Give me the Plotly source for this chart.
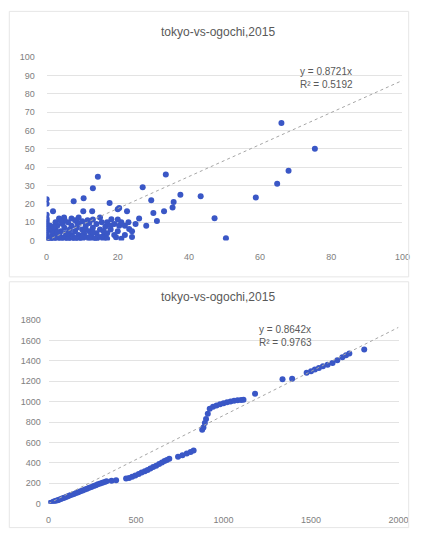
import plotly.graph_objects as go

W, H = 425, 539

# ---- data: top chart (daily) ----
daily_tokyo = [66, 75.4, 68, 64.8, 58.8, 43.3, 47.2, 50.4,
               33.5, 27, 37.6, 29.4, 35.7, 35.4, 33, 31,
               14.4, 13, 10.4, 7.6, 0, 0, 1.8, 10.3, 12.8, 17.7, 20.4, 22.6, 20, 15, 18.2, 20.4, 23.2, 19.5, 14, 4.9, 8.6,
               0, 0, 0, 0, 0, 0, 0, 0, 0, 0, 0, 0, 0, 0,
               0.5, 1, 2, 3, 4, 5, 6, 7, 8, 9, 10, 12, 14, 16,
               1, 1.5, 2, 2, 2.5, 3, 3, 3.5, 4, 4, 4.5, 5, 5, 5.5, 6, 6, 6.5, 7, 7, 7.5, 8, 8, 8.5, 9, 9, 9.5,
               10, 10, 10.5, 11, 11, 11.5, 12, 12, 12.5, 13, 13, 13.5, 14, 14, 15, 15.5, 16, 16.5, 17, 17, 18, 19, 19,
               20, 21, 22, 22, 24, 25, 21, 17, 1.5, 2.5, 3.5, 5, 7, 9, 4, 1, 1, 2, 3, 6, 8, 10, 11, 12, 13, 15, 16, 18,
               20, 23, 24, 26, 28, 30]
daily_ogochi = [64, 50, 38, 31, 23.5, 24.2, 12.1, 1.2,
                36, 29, 25, 22, 21, 18, 16, 10.7,
                34.8, 28.5, 23, 21.4, 22.5, 20, 16, 16, 16, 20.5, 17.8, 16, 17, 12.5, 11.6, 8, 6.3, 1.8, 0.9, 12.5, 9.8,
                0.5, 1, 2, 3, 4, 5, 6, 7, 8, 9, 10, 11, 12, 14,
                0, 0, 0, 0, 0, 0, 0, 0, 0, 0, 0, 0, 0, 0,
                1, 2.5, 1, 4, 6, 2, 8, 3, 1.5, 5, 9, 2, 7, 4, 1, 10, 6, 3, 8, 2, 5, 11, 7, 3, 9, 1.5,
                6, 10.5, 4, 8, 2, 11, 5, 9.5, 3, 7, 11.5, 1, 4, 9, 6, 10, 2.5, 7.5, 4, 10, 6, 3, 9,
                5, 10, 3, 8, 5, 9, 1, 1, 5, 10, 12, 11.5, 12, 12.5, 10.5, 8, 6.5, 7.5, 4.5, 4, 1, 2, 6, 1.5, 4.5, 2, 5, 8,
                11.5, 10, 2, 12, 8, 15]
slope_top = 0.8721
r2_top = 0.5192

# ---- data: bottom chart (cumulative) ----
cum_tokyo = [0, 5, 12, 20, 28, 35, 44, 52, 60, 70, 80, 90, 100, 110, 120, 132, 145, 158, 170, 182,
             195, 208, 220, 232, 245, 258, 270, 282, 295, 308, 320, 331,
             360, 386,
             443, 460, 478, 496, 515, 532, 550, 566, 582, 598, 615, 632, 648, 663, 676, 690,
             740, 765, 790, 812, 829,
             878, 885, 893, 900, 910, 921, 940, 960, 980, 1000, 1020, 1040, 1060, 1080, 1100, 1114,
             1180,
             1337, 1392, 1475, 1500, 1522, 1545, 1568, 1595, 1623, 1650, 1679, 1700, 1719, 1804]
cum_ogochi = [0, 2, 6, 11, 17, 22, 28, 33, 38, 45, 51, 58, 64, 71, 78, 86, 95, 104, 112, 120,
              129, 138, 146, 154, 163, 172, 180, 189, 197, 205, 212, 219,
              225, 228,
              245, 250, 262, 276, 290, 304, 318, 330, 344, 358, 372, 388, 403, 418, 428, 440,
              460, 473, 490, 505, 521,
              725, 745, 790, 830, 880, 930, 950, 963, 975, 985, 993, 1000, 1008, 1013, 1015, 1018,
              1076,
              1219, 1225, 1283, 1298, 1314, 1330, 1346, 1362, 1378, 1405, 1435, 1455, 1473, 1511]
slope_bot = 0.8642
r2_bot = 0.9763

title_text = "tokyo-vs-ogochi,2015"
top_xticks = [0, 20, 40, 60, 80, 100]
top_yticks = [0, 10, 20, 30, 40, 50, 60, 70, 80, 90, 100]
bot_xticks = [0, 500, 1000, 1500, 2000]
bot_yticks = [0, 200, 400, 600, 800, 1000, 1200, 1400, 1600, 1800]

# ---- styles ----
dot = "#3A57C6"
gray_txt = "#808080"
grid = "#E3E3E3"
font = "Liberation Sans, Arial, sans-serif"

def px(x):
    return x / W

def py(y):
    return 1 - y / H

fig = go.Figure()

fig.add_trace(go.Scatter(x=daily_tokyo, y=daily_ogochi, mode="markers",
                         marker=dict(color=dot, size=6), xaxis="x", yaxis="y", showlegend=False))
fig.add_trace(go.Scatter(x=[0, top_xticks[-1]], y=[0, slope_top * top_xticks[-1]], mode="lines",
                         line=dict(color="#A6A6A6", width=1, dash="dot"), xaxis="x", yaxis="y", showlegend=False))

fig.add_trace(go.Scatter(x=cum_tokyo, y=cum_ogochi, mode="markers",
                         marker=dict(color=dot, size=6), xaxis="x2", yaxis="y2", showlegend=False))
fig.add_trace(go.Scatter(x=[0, bot_xticks[-1]], y=[0, slope_bot * bot_xticks[-1]], mode="lines",
                         line=dict(color="#A6A6A6", width=1, dash="dot"), xaxis="x2", yaxis="y2", showlegend=False))

def ax(**kw):
    base = dict(zeroline=False, showline=False, ticks="outside", tickcolor="rgba(0,0,0,0)",
                tickfont=dict(size=9, color=gray_txt, family=font))
    base.update(kw)
    return base

fig.update_layout(
    width=W, height=H, margin=dict(l=0, r=0, t=0, b=0),
    paper_bgcolor="white", plot_bgcolor="white",
    xaxis=ax(domain=[px(45), px(412)], range=[0, 100], tickvals=top_xticks, anchor="y",
             showgrid=False, ticklen=8),
    yaxis=ax(domain=[py(240), py(53)], range=[0, 100], tickvals=top_yticks, anchor="x",
             showgrid=True, gridcolor=grid, gridwidth=1, ticklen=9),
    xaxis2=ax(domain=[px(47), px(408)], range=[0, 2000], tickvals=bot_xticks, anchor="y2",
              showgrid=False, ticklen=8),
    yaxis2=ax(domain=[py(508), py(321)], range=[0, 1800], tickvals=bot_yticks, anchor="x2",
              showgrid=True, gridcolor=grid, gridwidth=1, ticklen=5),
    font=dict(family=font),
)

# titles
for ty in (28, 298):
    fig.add_annotation(text=title_text, x=px(222), y=py(ty), xref="paper", yref="paper",
                       xanchor="center", yanchor="middle", showarrow=False,
                       font=dict(size=12, color="#595959", family=font))

# equations
fig.add_annotation(text=f"y = {slope_top}x<br>R² = {r2_top}", x=px(304), y=py(74), xref="paper", yref="paper",
                   showarrow=False, xanchor="left", yanchor="middle", align="left",
                   font=dict(size=10, color="#595959", family=font))
fig.add_annotation(text=f"y = {slope_bot}x<br>R² = {r2_bot}", x=px(262), y=py(337), xref="paper", yref="paper",
                   showarrow=False, xanchor="left", yanchor="middle", align="left",
                   font=dict(size=10, color="#595959", family=font))

# chart borders
fig.add_shape(type="rect", xref="paper", yref="paper", x0=px(6.5), x1=px(418.5), y0=py(277), y1=py(6.5),
              line=dict(color="#E6E6E6", width=1))
fig.add_shape(type="rect", xref="paper", yref="paper", x0=px(6.5), x1=px(418.5), y0=py(532.5), y1=py(282),
              line=dict(color="#E6E6E6", width=1))

page_css = ("document.documentElement.style.margin='0';document.documentElement.style.padding='0';"
            "document.documentElement.style.overflow='hidden';"
            "document.body.style.margin='0';document.body.style.padding='0';"
            "document.body.style.overflow='hidden';")

fig.write_html("out.html", post_script=page_css, config={"displayModeBar": False})
